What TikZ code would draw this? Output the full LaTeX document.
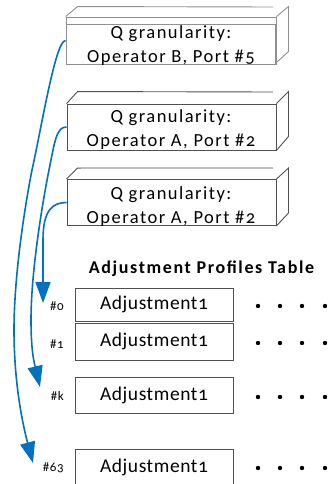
\documentclass[tikz,border=0pt]{standalone}
\usepackage{fontspec}
\setmainfont{Carlito}[Numbers=OldStyle]
\newfontfamily\boxfont{Carlito}[Numbers=OldStyle,LetterSpace=8]
\usetikzlibrary{arrows.meta}
\definecolor{arrblue}{HTML}{0070C0}
\definecolor{boxgray}{HTML}{505050}
\definecolor{lightgray}{HTML}{909090}
\begin{document}
\begin{tikzpicture}[x=1pt,y=-1pt,
  boxline/.style={draw=boxgray,line width=0.9pt},
  qbox/.style={boxline,minimum width=209pt,minimum height=46pt,inner sep=0pt},
  qtext/.style={align=center,font=\boxfont\fontsize{18.5}{24}\selectfont,inner sep=0pt},
  rowbox/.style={boxline,minimum width=158pt,inner sep=0pt,font=\fontsize{19.5}{22}\selectfont\addfontfeatures{LetterSpace=3}},
  idx/.style={anchor=east,inner sep=0pt,font=\fontsize{13}{15}\selectfont\addfontfeatures{LetterSpace=5}},
  conn/.style={draw=arrblue,line width=1.6pt,-{Triangle[length=21pt,width=15pt]}},
  dot/.style={fill=black,circle,inner sep=0pt,minimum size=4.4pt}
]
\useasboundingbox (0,0) rectangle (331,484);

% Box 1 (Operator B)
\node[draw=lightgray,line width=0.9pt,minimum width=210pt,minimum height=47pt,inner sep=0pt] (b1) at (171,40.5) {};
\draw[lightgray,line width=0.9pt] (67,24) -- (275,24) -- (275,64);
\draw[draw=lightgray,line width=0.9pt] (b1.north west) -- ++(12,-10) -- (273,7);
\draw[draw=lightgray,line width=0.9pt] (b1.north east) -- ++(12,-10) -- ++(0,45) -- (277,62);
\node[qtext] (t1) at (171,46) {Q granularity:\\Operator B, Port \#5};

% Box 2
\node[qbox] (b2) at (171.5,127) {};
\draw[boxline] (b2.north west) -- ++(11,-12) -- (273,92);
\draw[boxline] (b2.north east) -- ++(12,-12) -- ++(0,45) -- (b2.south east);
\node[qtext] (t2) at (171,130) {Q granularity:\\Operator A, Port \#2};

% Box 3
\node[qbox] (b3) at (171.5,202.5) {};
\draw[boxline] (b3.north west) -- ++(11,-11) -- (273,168);
\draw[boxline] (b3.north east) -- ++(12,-11) -- ++(0,45) -- (b3.south east);
\node[qtext] (t3) at (171,207) {Q granularity:\\Operator A, Port \#2};

% Title
\node[font=\bfseries\fontsize{18}{20}\selectfont\addfontfeatures{LetterSpace=9},inner sep=0pt] (title) at (201.5,269) {Adjustment Profiles Table};

% Rows
\node[rowbox,minimum height=33pt] (r0) at (154,304.5) {Adjustment1};
\node[rowbox,minimum height=37pt] (r1) at (154,341.5) {Adjustment1};
\node[rowbox,minimum height=36pt] (rk) at (154,395) {Adjustment1};
\node[rowbox,minimum height=37pt] (r63) at (154,467.5) {Adjustment1};

\node[idx] (i0) at (64,306) {\#0};
\node[idx] (i1) at (64,344) {\#1};
\node[idx] (ik) at (64,396) {\#k};
\node[idx] (i63) at (64,468) {\#63};

% Dots
\foreach \r/\y in {d0/306,d1/343,dk/397,d63/468}{
  \foreach \x [count=\n] in {258,280,302,325}{
    \node[dot] (\r-\n) at (\x,\y) {};
  }
}

% Arrow end points
\coordinate (e0) at (43,303);
\coordinate (ek) at (40,387);
\coordinate (e63) at (33,463);

% Connectors
\draw[conn] (b1.west) .. controls +(-10,0) and +(10,-45) .. (32,170)
  .. controls +(-5,25) and +(0,-60) .. (14,330)
  .. controls +(0,60) and +(-8,-30) .. (e63);
\draw[conn] (b2.west) .. controls +(-10,0) and +(6,-30) .. (49,170)
  .. controls +(-6,30) and +(0,-50) .. (31,320)
  .. controls +(0,30) and +(-6,-25) .. (ek);
\draw[conn] (b3.west) .. controls +(-14,0) and +(0,-30) .. (43,240) -- (e0);
\end{tikzpicture}
\end{document}
